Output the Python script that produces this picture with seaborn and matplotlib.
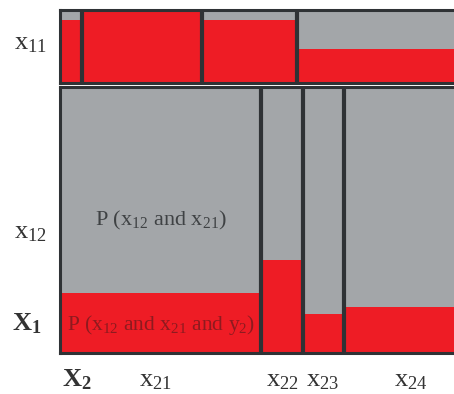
import numpy as np
import pandas as pd
import matplotlib
matplotlib.use("Agg")
import matplotlib.pyplot as plt
import seaborn as sns

sns.set_theme(style="white")
plt.rcParams["font.family"] = ["Liberation Serif", "DejaVu Serif"]
plt.rcParams["mathtext.fontset"] = "custom"
plt.rcParams["mathtext.rm"] = "Liberation Serif"
plt.rcParams["mathtext.it"] = "Liberation Serif:italic"
plt.rcParams["mathtext.bf"] = "Liberation Serif:bold"

# Mosaic data: X1 splits the rows, X2 the columns within a row,
# and the red part of each cell is the share of y2.
x1_levels = ["x11", "x12"]
x1_share = [0.216, 0.784]
x2_levels = ["x21", "x22", "x23", "x24"]
x2_share_given_x11 = [0.056, 0.302, 0.239, 0.403]
x2_share_given_x12 = [0.508, 0.104, 0.104, 0.284]
y2_share_given_x11 = [0.86, 1.00, 0.86, 0.47]
y2_share_given_x12 = [0.226, 0.35, 0.147, 0.174]

RED = "#ee1c25"
GRAY = "#a3a6a9"
DARK = "#2f3235"
TEXT = "#333333"

W, H = 454, 394
fig = plt.figure(figsize=(W / 100, H / 100), dpi=100)


def row_axes(top_px, bottom_px):
    return fig.add_axes([60 / W, 1 - bottom_px / H, 1 - 60 / W + 0.01,
                         (bottom_px - top_px) / H])


def draw_row(ax, widths, y2_share):
    edges = [0.0] + [float(v) for v in np.cumsum(widths)]
    mids = [(a + b) / 2 for a, b in zip(edges[:-1], edges[1:])]
    frame = pd.DataFrame({
        "x": mids + mids,
        "outcome": ["y2"] * len(mids) + ["y1"] * len(mids),
        "w": list(y2_share) + [1 - v for v in y2_share],
    })
    sns.histplot(data=frame, x="x", weights="w", hue="outcome",
                 hue_order=["y1", "y2"], bins=edges, multiple="stack",
                 palette={"y2": RED, "y1": GRAY}, alpha=1, linewidth=0,
                 shrink=1, legend=False, ax=ax)
    for e in edges[1:-1]:
        ax.axvline(e, color=DARK, lw=3.0)
    ax.set_xlim(edges[0], edges[-1] * 1.005)
    ax.set_ylim(0, 1)
    ax.set_xticks([])
    ax.set_yticks([])
    ax.set_xlabel("")
    ax.set_ylabel("")
    for s in ax.spines.values():
        s.set_color(DARK)
        s.set_linewidth(2.2)
    ax.spines["right"].set_visible(False)
    return edges


ax_top = row_axes(10, 83)
draw_row(ax_top, x2_share_given_x11, y2_share_given_x11)

ax_bot = row_axes(87, 353)
edges = draw_row(ax_bot, x2_share_given_x12, y2_share_given_x12)

# Row labels
fs = 19
fig.text(30 / W, 1 - 44 / H, r"$\mathrm{x_{11}}$", ha="center", va="center",
         fontsize=fs, color=TEXT)
fig.text(30 / W, 1 - 233 / H, r"$\mathrm{x_{12}}$", ha="center", va="center",
         fontsize=fs, color=TEXT)
fig.text(27 / W, 1 - 324 / H, r"$\mathbf{X_1}$", ha="center", va="center",
         fontsize=19, color=TEXT)

# Column labels
fig.text(77 / W, 1 - 380 / H, r"$\mathbf{X_2}$", ha="center", va="center",
         fontsize=19, color=TEXT)
label_x = [155, 282, 323, 411]
for name, px in zip(x2_levels, label_x):
    fig.text(px / W, 1 - 381 / H, r"$\mathrm{x_{%s}}$" % name[1:],
             ha="center", va="center", fontsize=fs, color=TEXT)

# Cell annotations
mid0 = (edges[0] + edges[1]) / 2
ax_bot.text(mid0, 0.5, r"P (x$_{12}$ and x$_{21}$)", ha="center",
            va="center", fontsize=16, color="#3f4244")
ax_bot.text(mid0, 0.105, r"P (x$_{12}$ and x$_{21}$ and y$_2$)", ha="center",
            va="center", fontsize=15.5, color="#8e1a1f")

fig.savefig("out.png", dpi=100)
